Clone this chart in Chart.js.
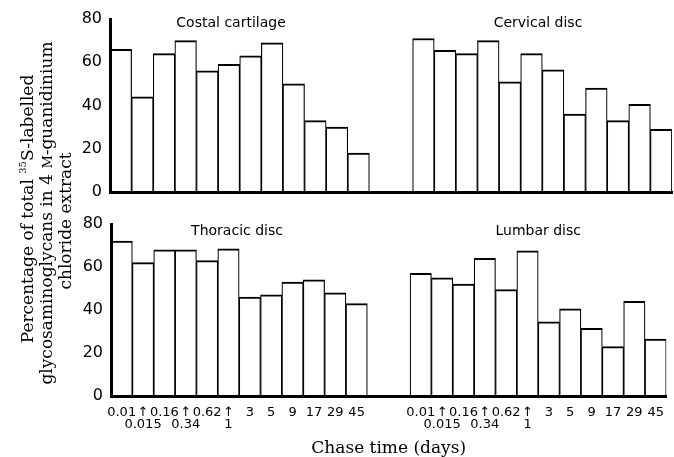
<!DOCTYPE html>
<html>
<head>
<meta charset="utf-8">
<script src="https://cdn.jsdelivr.net/npm/chart.js@4.4.1/dist/chart.umd.min.js"></script>
<style>
  html, body { margin: 0; padding: 0; background: #fff; }
  #wrap { position: relative; width: 674px; height: 457px; overflow: hidden; background: #fff; }
  #wrap canvas { position: absolute; left: 0; top: 0; }
</style>
</head>
<body>
<div id="wrap">
  <canvas id="rowBottom" width="674" height="457"></canvas>
  <canvas id="rowTop" width="674" height="457"></canvas>
</div>
<script>
// ---- data ----
const chaseTimes = ['0.01', '0.015', '0.16', '0.34', '0.62', '1', '3', '5', '9', '17', '29', '45'];
const arrowedTimes = ['0.015', '0.34', '1'];           // printed on the second line under an arrow
const costalCartilage = [66, 44, 64, 70, 56, 59, 63, 69, 50, 33, 30, 18];
const cervicalDisc    = [71, 65.5, 64, 70, 51, 64, 56.5, 36, 48, 33, 40.5, 29];
const thoracicDisc    = [72, 62, 68, 68, 63, 68.5, 46, 47, 53, 54, 48, 43];
const lumbarDisc      = [57, 55, 52, 64, 49.5, 67.5, 34.5, 40.5, 31.5, 23, 44, 26.5];
const panelTitles = ['Costal cartilage', 'Cervical disc', 'Thoracic disc', 'Lumbar disc'];
const yTicks = [0, 20, 40, 60, 80];
const xTitle = 'Chase time (days)';
const yTitleLines = [
  [{ t: 'Percentage of total ', s: 17 }, { t: '35', s: 10, rise: 7 }, { t: 'S-labelled', s: 17 }],
  [{ t: 'glycosaminoglycans in 4 ', s: 17 }, { t: 'M', s: 13 }, { t: '-guanidinium', s: 17 }],
  [{ t: 'chloride extract', s: 17 }]
];

// ---- build rows: left panel, two empty slots, right panel ----
const GAP = 2;
function rowData(left, right) {
  return [...left, ...Array(GAP).fill(null), ...right];
}
function tickLabel(t) {
  return arrowedTimes.includes(t) ? ['\u2191', t] : [t];
}
const panelLabels = chaseTimes.map(tickLabel);
const rowLabels = [...panelLabels, ...Array(GAP).fill(['']), ...panelLabels];

const SANS = 'DejaVu Sans';
const SERIF = 'DejaVu Serif';

function barDataset(values) {
  return {
    data: values,
    backgroundColor: '#ffffff',
    borderColor: '#000000',
    borderWidth: { top: 2, left: 1.2, right: 1.2, bottom: 0 },
    borderSkipped: false,
    categoryPercentage: 1.0,
    barPercentage: 1.0
  };
}

function panelTitlePlugin(titles, positions, baselineY) {
  return {
    id: 'panelTitles',
    afterDraw(chart) {
      const ctx = chart.ctx;
      const xs = chart.scales.x;
      ctx.save();
      ctx.fillStyle = '#000';
      ctx.font = '14px "' + SANS + '"';
      ctx.textAlign = 'center';
      ctx.textBaseline = 'alphabetic';
      titles.forEach((t, i) => {
        ctx.fillText(t, xs.getPixelForValue(positions[i]), baselineY);
      });
      ctx.restore();
    }
  };
}

const yTitlePlugin = {
  id: 'yTitle',
  afterDraw(chart) {
    const ctx = chart.ctx;
    const baselineX = [32.5, 51.5, 70.5];
    const centerY = [209, 213, 221];
    ctx.save();
    ctx.fillStyle = '#000';
    ctx.textBaseline = 'alphabetic';
    ctx.textAlign = 'left';
    yTitleLines.forEach((parts, li) => {
      let w = 0;
      parts.forEach(p => { ctx.font = p.s + 'px "' + SERIF + '"'; p.w = ctx.measureText(p.t).width; w += p.w; });
      ctx.save();
      ctx.translate(baselineX[li], centerY[li]);
      ctx.rotate(-Math.PI / 2);
      let x = -w / 2;
      parts.forEach(p => {
        ctx.font = p.s + 'px "' + SERIF + '"';
        ctx.fillText(p.t, x, -(p.rise || 0));
        x += p.w;
      });
      ctx.restore();
    });
    ctx.restore();
  }
};

function yScale(width) {
  return {
    min: 0, max: 80,
    afterBuildTicks(s) { s.ticks = yTicks.map(v => ({ value: v })); },
    ticks: { padding: 8, color: '#000', font: { family: SANS, size: 16 } },
    grid: { display: false, drawTicks: false },
    border: { display: true, color: '#000', width: 3, z: 1 },
    afterFit(s) { s.width = width; }
  };
}

const common = {
  responsive: false,
  animation: false,
  devicePixelRatio: 1,
  events: [],
  plugins: { legend: { display: false }, tooltip: { enabled: false }, title: { display: false } }
};

// ---- top row ----
new Chart(document.getElementById('rowTop'), {
  type: 'bar',
  data: { labels: rowLabels, datasets: [barDataset(rowData(costalCartilage, cervicalDisc))] },
  options: Object.assign({}, common, {
    layout: { padding: { top: 19, left: 0, right: 2, bottom: 0 } },
    scales: {
      x: {
        grid: { display: false, drawTicks: false },
        border: { display: true, color: '#000', width: 3, z: 1 },
        ticks: { display: false, autoSkip: false },
        afterFit(s) { s.height = 457 - 192; }
      },
      y: yScale(110)
    }
  }),
  plugins: [panelTitlePlugin(panelTitles.slice(0, 2), [5.1, 19.3], 27)]
});

// ---- bottom row ----
new Chart(document.getElementById('rowBottom'), {
  type: 'bar',
  data: { labels: rowLabels, datasets: [barDataset(rowData(thoracicDisc, lumbarDisc))] },
  options: Object.assign({}, common, {
    layout: { padding: { top: 224, left: 0, right: 2, bottom: 0 } },
    scales: {
      x: {
        grid: { display: false, drawTicks: false },
        border: { display: true, color: '#000', width: 3, z: 1 },
        ticks: {
          autoSkip: false, maxRotation: 0, minRotation: 0, padding: 10, color: '#000',
          font: { family: SANS, size: 13, lineHeight: 0.95 }
        },
        title: {
          display: true, text: xTitle, color: '#000', padding: 0,
          font: { family: SERIF, size: 17, lineHeight: 1 }
        },
        afterFit(s) { s.height = 457 - 396; }
      },
      y: yScale(111)
    }
  }),
  plugins: [panelTitlePlugin(panelTitles.slice(2, 4), [5.4, 19.5], 235), yTitlePlugin]
});
</script>
</body>
</html>
